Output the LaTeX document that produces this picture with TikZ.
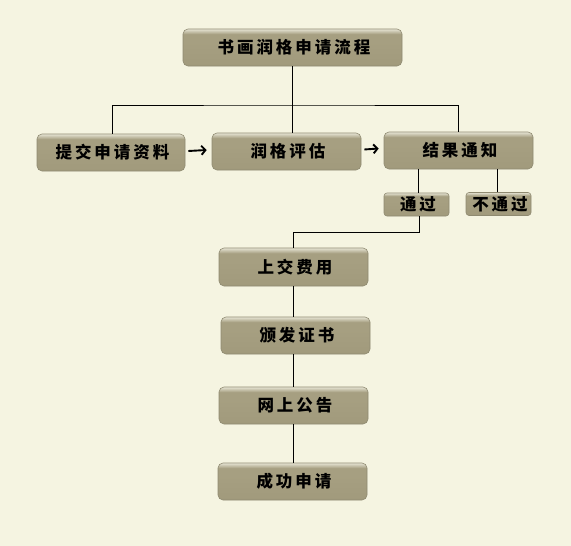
\documentclass[tikz,border=0pt]{standalone}
\usepackage{fontspec}
\newfontfamily\cjk[LetterSpace=18]{Noto Sans CJK SC}
\usetikzlibrary{arrows.meta}
\definecolor{bg}{HTML}{F5F4E1}
\definecolor{btnbase}{HTML}{A69F81}
\definecolor{btndark}{HTML}{A19A7C}
\definecolor{btnlight}{HTML}{E6E4D4}
\definecolor{btnedge}{HTML}{8F8A71}
\pgfdeclareverticalshading{btn}{100bp}{color(0bp)=(btndark); color(25bp)=(btndark); color(58bp)=(btnbase); color(68bp)=(btnbase); color(75bp)=(btnlight); color(100bp)=(btnlight)}
\newcommand{\lbl}[1]{#1\kern-0.18em}
\tikzset{
  btnbox/.style={rounded corners=5pt, shading=btn, draw=btnedge, line width=0.6pt,
    font=\cjk\bfseries\fontsize{16.5pt}{16.5pt}\selectfont, inner sep=0pt,
    minimum width=149pt, minimum height=37pt, text=black},
  smallbox/.style={btnbox, rounded corners=3pt, minimum width=65pt, minimum height=23pt},
  link/.style={draw=black, line width=0.9pt},
  flow/.style={draw=black, line width=1.9pt, -{Straight Barb[length=4pt,width=9pt,line width=1.9pt]}}
}
\begin{document}
\begin{tikzpicture}[x=1pt,y=-1pt]
\fill[bg] (0,0) rectangle (571,546);
\useasboundingbox (0,0) rectangle (571,546);

\node[btnbox, minimum width=219pt] (title) at (292.5,47.5) {\lbl{书画润格申请流程}};
\node[btnbox, minimum width=148pt] (b1) at (111,152.5) {\lbl{提交申请资料}};
\node[btnbox] (b2) at (286.5,151.5) {\lbl{润格评估}};
\node[btnbox] (b3) at (458.5,150.5) {\lbl{结果通知}};
\node[smallbox] (pass) at (416.5,204.5) {\lbl{通过}};
\node[smallbox] (fail) at (498.5,204) {\lbl{不通过}};
\node[btnbox, minimum height=38pt] (fee) at (293.5,267) {\lbl{上交费用}};
\node[btnbox] (cert) at (295.5,335.5) {\lbl{颁发证书}};
\node[btnbox] (pub) at (293.5,405.5) {\lbl{网上公告}};
\node[btnbox] (succ) at (292.5,481.5) {\lbl{成功申请}};

\coordinate (j) at (293,105);
\coordinate (k) at (419,232);

% top tree
\path[link] (title.south) -- (title.south |- b2.north);
\path[link] ([xshift=1pt]b1.north) |- (j) -| ([xshift=-0.5pt]b3.north);

% arrows
\path[flow] ([xshift=3pt,yshift=1.5pt]b1.east) -- ([xshift=-5pt,yshift=1.5pt]b2.west);
\path[flow] ([xshift=3pt,yshift=2pt]b2.east) -- ([xshift=-5pt,yshift=2pt]b3.west);

% result branches
\path[link] ([xshift=2pt]pass.north) -- ([xshift=2pt]pass.north |- b3.south);
\path[link] ([xshift=-1.5pt]fail.north) -- ([xshift=-1.5pt]fail.north |- b3.south);

% pass to fee
\path[link] ([xshift=2.5pt]pass.south) -- (k) -| ([xshift=-0.5pt]fee.north);

% vertical chain
\path[link] ([xshift=-0.5pt]fee.south) -- ([xshift=-0.5pt]fee.south |- cert.north);
\path[link] ([xshift=-0.5pt]fee.south |- cert.south) -- ([xshift=-0.5pt]fee.south |- pub.north);
\path[link] ([xshift=-0.5pt]fee.south |- pub.south) -- ([xshift=-0.5pt]fee.south |- succ.north);
\end{tikzpicture}
\end{document}
